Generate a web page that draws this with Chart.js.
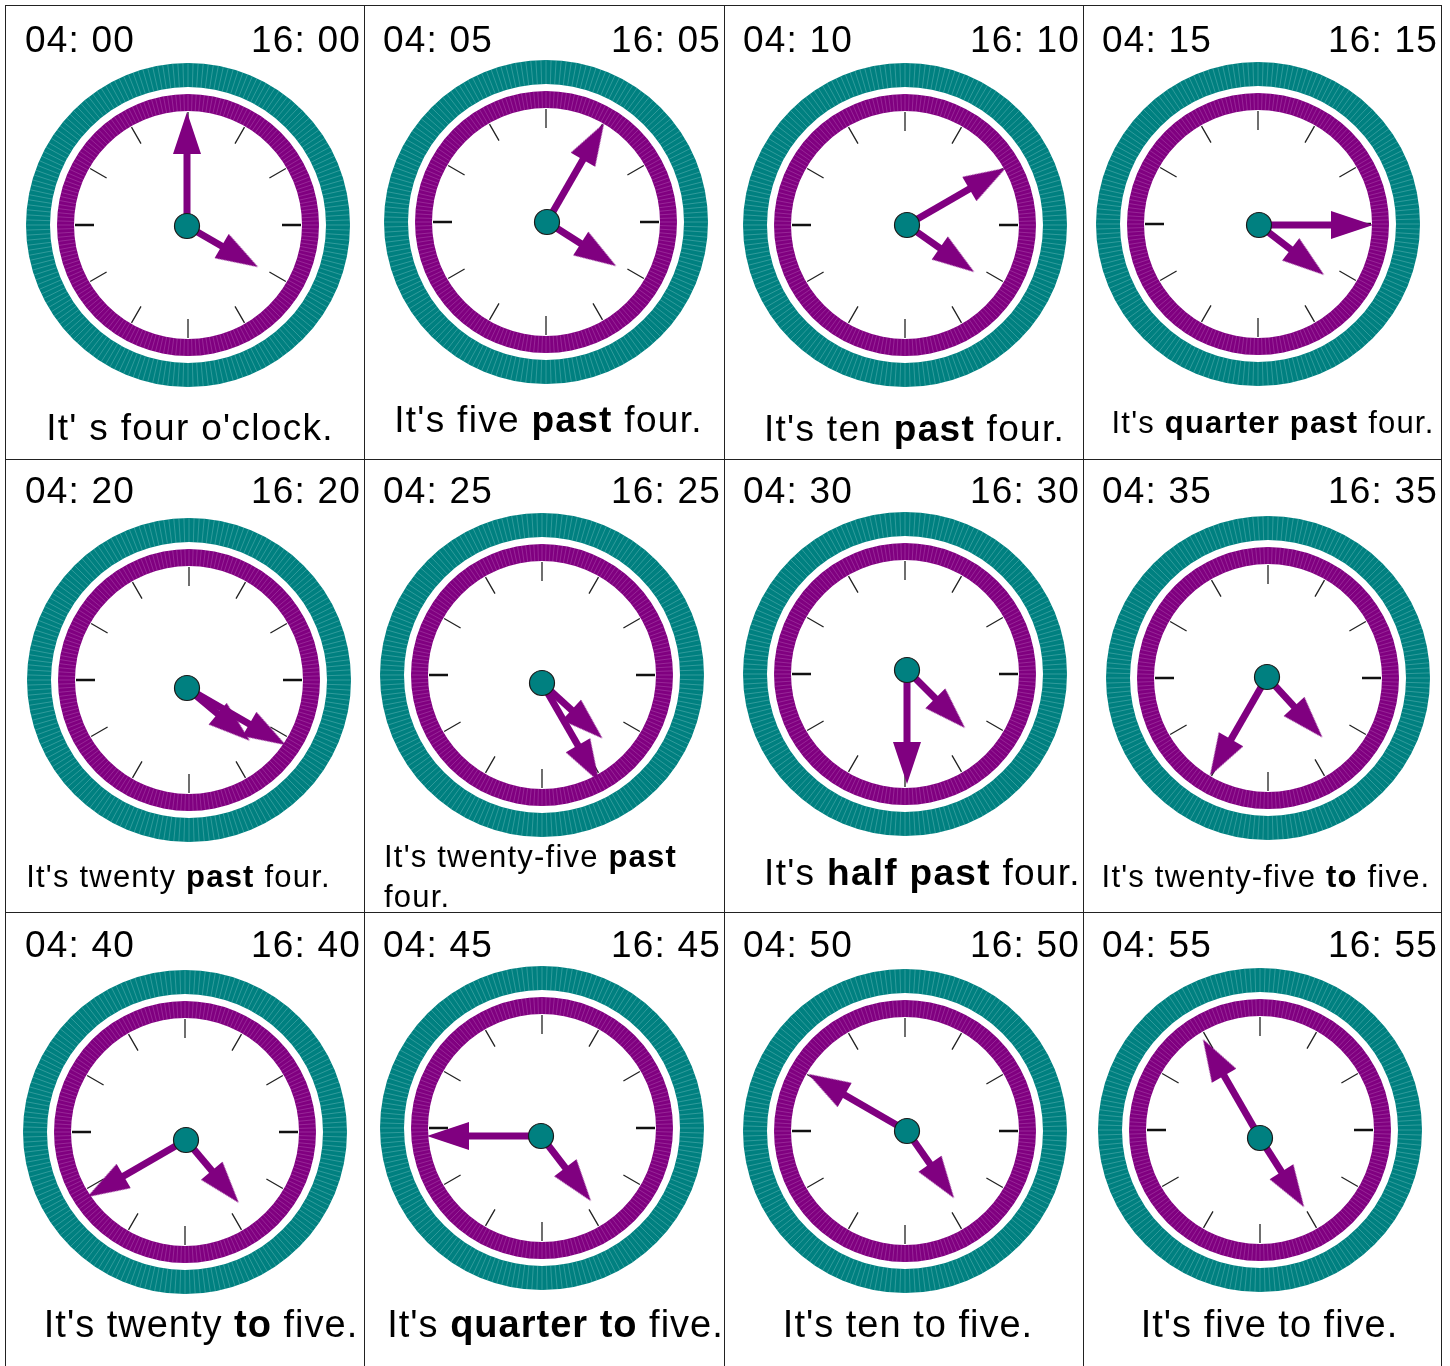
<!DOCTYPE html>
<html>
<head>
<meta charset="utf-8">
<script src="https://cdn.jsdelivr.net/npm/chart.js@4.4.0/dist/chart.umd.min.js"></script>
<style>
html, body { margin: 0; padding: 0; background: #fff; }
body { width: 1450px; height: 1366px; position: relative; overflow: hidden; font-family: "Liberation Sans", Arial, sans-serif; color: #000; }
.cell { position: absolute; box-sizing: border-box; border-right: 1px solid #222; border-bottom: 1px solid #222; }
.cell canvas { position: absolute; }
.t { position: absolute; white-space: nowrap; }
</style>
</head>
<body>
<script>
// ---- data ----
var hourValues = [4, 4, 4, 4, 4, 4, 4, 4, 4, 4, 4, 4];
var minuteValues = [0, 5, 10, 15, 20, 25, 30, 35, 40, 45, 50, 55];
var amLabels = ['04: 00', '04: 05', '04: 10', '04: 15', '04: 20', '04: 25', '04: 30', '04: 35', '04: 40', '04: 45', '04: 50', '04: 55'];
var pmLabels = ['16: 00', '16: 05', '16: 10', '16: 15', '16: 20', '16: 25', '16: 30', '16: 35', '16: 40', '16: 45', '16: 50', '16: 55'];
// caption pieces: [text, bold]
var captions = [
    [["It' s four o'clock.", 0]],
    [["It's five ", 0], ["past", 1], [" four.", 0]],
    [["It's ten ", 0], ["past", 1], [" four.", 0]],
    [["It's ", 0], ["quarter past", 1], [" four.", 0]],
    [["It's twenty ", 0], ["past", 1], [" four.", 0]],
    [["It's twenty-five ", 0], ["past", 1], ["\nfour.", 0]],
    [["It's ", 0], ["half past", 1], [" four.", 0]],
    [["It's twenty-five ", 0], ["to", 1], [" five.", 0]],
    [["It's twenty ", 0], ["to", 1], [" five.", 0]],
    [["It's ", 0], ["quarter to", 1], [" five.", 0]],
    [["It's ten to five.", 0]],
    [["It's five to five.", 0]]
];

// ---- layout ----
var colEdges = [5, 364, 724, 1083, 1441];
var rowEdges = [5, 459, 912, 1366];
var labelBase = [46, 44, 45];
// ring centre inside the cell
var ringAt = [[182, 219], [182, 216], [181, 219], [175, 218], [183, 221], [178, 216], [181, 215], [185, 219], [179, 220], [178, 216], [181, 219], [177, 218]];
// the hands' pivot is a little off the ring centre in some clocks
var pivotShift = [[-1, 1], [1, 0], [2, 0], [1, 1], [-2, 8], [0, 8], [2, -4], [-1, -1], [1, 8], [-1, 8], [2, 0], [0, 8]];
// caption: [font size, centre x (or left x if aligned left), baseline y, letter spacing]
var capLayout = [
    [37, 184, 435, 1.3], [37, 184.5, 427, 1.3], [37, 190.5, 436, 1.3], [31, 190, 428, 1.2],
    [31, 172.5, 429, 1.2], [31, 20, 409, 1.2], [37, 198.5, 427, 1.3], [31, 183, 429, 1.2],
    [38, 195, 426, 1], [38, 191.5, 426, 1], [38, 184, 426, 1], [38, 186.5, 426, 1]
];

var TEAL = '#008080', PURPLE = '#800080';
var rings = [[162, 138, TEAL, 'rgba(200,240,240,0.35)'], [131, 114, PURPLE, 'rgba(240,190,240,0.3)']];
var minuteLen = 114, hourLen = 82, headLen = 42, headWidth = 28;
var tickIn = 94, tickOut = 113;

// arrow head image: tip in the middle, body below it
var head = document.createElement('canvas');
head.width = headWidth;
head.height = headLen * 2;
(function () {
    var c = head.getContext('2d');
    c.fillStyle = PURPLE;
    c.beginPath();
    c.moveTo(headWidth / 2, headLen);
    c.lineTo(headWidth, headLen * 2);
    c.lineTo(0, headLen * 2);
    c.closePath();
    c.fill();
})();

var ringPlugin = {
    id: 'rings',
    beforeDatasetsDraw: function (chart) {
        var ctx = chart.ctx, sx = chart.scales.x, sy = chart.scales.y;
        var cx = sx.getPixelForValue(0), cy = sy.getPixelForValue(0);
        var k = Math.abs(sx.getPixelForValue(1) - cx);
        rings.forEach(function (rg) {
            var ro = rg[0] * k, ri = rg[1] * k;
            ctx.save();
            ctx.beginPath();
            ctx.arc(cx, cy, ro, 0, Math.PI * 2);
            ctx.arc(cx, cy, ri, 0, Math.PI * 2, true);
            ctx.fillStyle = rg[2];
            ctx.fill();
            ctx.clip();
            ctx.strokeStyle = rg[3];
            ctx.lineWidth = 0.7;
            ctx.beginPath();
            for (var i = 0; i < 200; i++) {
                var a = i / 200 * Math.PI * 2;
                ctx.moveTo(cx + ri * Math.cos(a), cy + ri * Math.sin(a));
                ctx.lineTo(cx + ro * Math.cos(a), cy + ro * Math.sin(a));
            }
            ctx.stroke();
            ctx.restore();
        });
    }
};

function polar(r, deg, o) {
    var a = deg * Math.PI / 180;
    return { x: o.x + r * Math.sin(a), y: o.y + r * Math.cos(a) };
}

function tickData(list) {
    var out = [], o = { x: 0, y: 0 };
    list.forEach(function (h) {
        out.push(polar(tickIn, h * 30, o), polar(tickOut, h * 30, o), { x: null, y: null });
    });
    return out;
}

function addText(parent, html, size, left, right, base, ls, lh, align, width) {
    var el = document.createElement('div');
    el.className = 't';
    el.innerHTML = html;
    el.style.fontSize = size + 'px';
    el.style.lineHeight = lh + 'px';
    el.style.letterSpacing = ls + 'px';
    el.style.top = (base - ((lh - 1.117 * size) / 2 + 0.905 * size)) + 'px';
    if (left != null) el.style.left = left + 'px';
    if (right != null) el.style.right = right + 'px';
    if (align) { el.style.textAlign = align; el.style.width = width + 'px'; }
    parent.appendChild(el);
}

for (var i = 0; i < 12; i++) {
    var c = i % 4, r = Math.floor(i / 4);
    var cell = document.createElement('div');
    cell.className = 'cell';
    cell.style.left = colEdges[c] + 'px';
    cell.style.top = rowEdges[r] + 'px';
    cell.style.width = (colEdges[c + 1] - colEdges[c] + 1) + 'px';
    cell.style.height = (rowEdges[r + 1] - rowEdges[r] + 1) + 'px';
    if (c == 0) cell.style.borderLeft = '1.5px solid #222';
    if (r == 0) cell.style.borderTop = '1.5px solid #222';
    document.body.appendChild(cell);

    var cv = document.createElement('canvas');
    cv.width = 360;
    cv.height = 360;
    cv.style.left = (ringAt[i][0] - 180) + 'px';
    cv.style.top = (ringAt[i][1] - 180) + 'px';
    cell.appendChild(cv);

    // time labels
    addText(cell, amLabels[i], 37, 19, null, labelBase[r], 1.2, 37);
    addText(cell, pmLabels[i], 37, null, 3, labelBase[r], 1.2, 37);

    // caption
    var cl = capLayout[i];
    var html = captions[i].map(function (p) {
        var t = p[0].replace('\n', '<br>');
        return p[1] ? '<b>' + t + '</b>' : t;
    }).join('');
    var lh = Math.round(cl[0] * 1.3);
    if (i == 5) addText(cell, html, cl[0], cl[1], null, cl[2], cl[3], lh);
    else addText(cell, html, cl[0], cl[1] - 250, null, cl[2], cl[3], lh, 'center', 500);

    // hands
    var pivot = { x: pivotShift[i][0], y: -pivotShift[i][1] };
    var mAng = minuteValues[i] * 6;
    var hAng = (hourValues[i] % 12 + minuteValues[i] / 60) * 30;
    var mTip = polar(minuteLen, mAng, pivot), hTip = polar(hourLen, hAng, pivot);

    new Chart(cv, {
        type: 'scatter',
        data: {
            datasets: [
                {
                    // centre knob
                    data: [pivot],
                    pointRadius: 12.5,
                    pointBackgroundColor: TEAL,
                    pointBorderColor: '#1a1a1a',
                    pointBorderWidth: 1.2
                },
                {
                    // arrow heads
                    data: [mTip, hTip],
                    pointStyle: head,
                    pointRotation: [mAng, hAng],
                    pointRadius: 10
                },
                {
                    data: [pivot, polar(minuteLen - headLen * 0.8, mAng, pivot)],
                    showLine: true,
                    borderColor: PURPLE,
                    borderWidth: 7,
                    pointRadius: 0
                },
                {
                    data: [pivot, polar(hourLen - headLen * 0.8, hAng, pivot)],
                    showLine: true,
                    borderColor: PURPLE,
                    borderWidth: 7,
                    pointRadius: 0
                },
                {
                    data: tickData([3, 9]),
                    showLine: true,
                    spanGaps: false,
                    borderColor: '#111',
                    borderWidth: 2.6,
                    pointRadius: 0
                },
                {
                    data: tickData([0, 1, 2, 4, 5, 6, 7, 8, 10, 11]),
                    showLine: true,
                    spanGaps: false,
                    borderColor: '#222',
                    borderWidth: 1.3,
                    pointRadius: 0
                }
            ]
        },
        options: {
            responsive: false,
            animation: false,
            events: [],
            layout: { padding: 0, autoPadding: false },
            scales: {
                x: { type: 'linear', min: -180, max: 180, display: false },
                y: { type: 'linear', min: -180, max: 180, display: false }
            },
            plugins: { legend: { display: false }, tooltip: { enabled: false } }
        },
        plugins: [ringPlugin]
    });
}
</script>
</body>
</html>
